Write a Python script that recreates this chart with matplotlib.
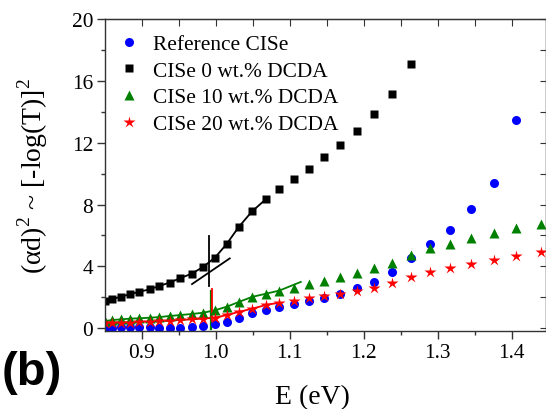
import matplotlib
matplotlib.use('Agg')
import matplotlib.pyplot as plt
from matplotlib.ticker import MultipleLocator

plt.rcParams['font.family'] = ['Liberation Serif', 'DejaVu Serif']
plt.rcParams['mathtext.fontset'] = 'custom'
plt.rcParams['mathtext.rm'] = 'Liberation Serif'

# photon energy (eV), shared by all samples
energy = [0.850, 0.860, 0.872, 0.884, 0.897, 0.911, 0.924, 0.938, 0.952, 0.968,
          0.983, 0.999, 1.015, 1.031, 1.049, 1.068, 1.086, 1.106, 1.126, 1.146,
          1.168, 1.191, 1.214, 1.238, 1.264, 1.289, 1.317, 1.345, 1.376, 1.406,
          1.439]

ref_cise = [0.00, 0.04, 0.06, 0.09, 0.09, 0.06, 0.04, 0.04, 0.04, 0.09,
            0.15, 0.26, 0.41, 0.69, 0.99, 1.21, 1.40, 1.60, 1.77, 1.96,
            2.24, 2.59, 3.00, 3.67, 4.53, 5.46, 6.36, 7.72, 9.39, 13.48]
dcda_0 = [1.77, 1.88, 2.05, 2.20, 2.37, 2.52, 2.74, 2.96, 3.24, 3.54,
          3.97, 4.57, 5.46, 6.54, 7.55, 8.35, 9.02, 9.66, 10.31, 11.09,
          11.87, 12.77, 13.87, 15.15, 17.09]
dcda_10 = [0.47, 0.54, 0.58, 0.63, 0.65, 0.69, 0.73, 0.80, 0.86, 0.93,
           1.01, 1.17, 1.40, 1.70, 2.03, 2.24, 2.44, 2.63, 2.85, 3.06,
           3.32, 3.56, 3.90, 4.25, 4.72, 5.18, 5.48, 5.81, 6.13, 6.49,
           6.71]
dcda_20 = [0.37, 0.33, 0.37, 0.37, 0.41, 0.43, 0.45, 0.50, 0.54, 0.58,
           0.63, 0.69, 0.86, 1.06, 1.27, 1.51, 1.66, 1.77, 1.94, 2.09,
           2.24, 2.39, 2.63, 2.93, 3.32, 3.64, 3.90, 4.14, 4.44, 4.66,
           4.90]

labels = ['Reference CISe', 'CISe 0 wt.% DCDA',
          'CISe 10 wt.% DCDA', 'CISe 20 wt.% DCDA']

# guide lines: tangent, fit end and band-gap markers
tangent_0_E = [0.968, 1.019]
tangent_0_y = [2.86, 4.52]
fit_10_end = (1.115, 3.0)
gap_0_E, gap_0_y = 0.9906, [2.75, 5.98]
gap_10_E, gap_10_y = 0.993, [-0.05, 2.43]
gap_20_E, gap_20_y = 0.995, [0.49, 2.54]

fig = plt.figure(figsize=(5.46, 4.10), dpi=100)
ax = fig.add_axes([105 / 546, 78 / 410, 441 / 546, 312.3 / 410])

blue, black, green, red = '#0000ff', '#000000', '#008000', '#ff0000'

# lines through the data in the fitted range
ax.plot(energy[:16], dcda_0[:16], '-', color=black, lw=1.3)
ax.plot(energy[:17] + [fit_10_end[0]], dcda_10[:17] + [fit_10_end[1]], '-',
        color=green, lw=1.3)
ax.plot(energy[:17], dcda_20[:17], '-', color=red, lw=1.3)
ax.plot(tangent_0_E, tangent_0_y, '-', color=black, lw=1.3)
ax.plot([gap_0_E, gap_0_E], gap_0_y, '-', color=black, lw=1.3)
ax.plot([gap_10_E, gap_10_E], gap_10_y, '-', color=green, lw=1.6)
ax.plot([gap_20_E, gap_20_E], gap_20_y, '-', color=red, lw=1.3)

ax.plot(energy[:len(ref_cise)], ref_cise, 'o', color=blue, ms=6.5,
        mec='none', label=labels[0])
ax.plot(energy[:len(dcda_0)], dcda_0, 's', color=black, ms=5.8,
        mec='none', label=labels[1])
ax.plot(energy[:len(dcda_10)], dcda_10, '^', color=green, ms=7.5,
        mec='none', label=labels[2])
ax.plot(energy[:len(dcda_20)], dcda_20, '*', color=red, ms=9,
        mec='none', label=labels[3])

ax.set_xlim(0.8504, 1.4464)
ax.set_ylim(-0.17, 20)
ax.xaxis.set_minor_locator(MultipleLocator(0.05))
ax.yaxis.set_minor_locator(MultipleLocator(2))
ax.set_xticks([0.9, 1.0, 1.1, 1.2, 1.3, 1.4])
ax.set_xticklabels(['0.9', '1.0', '1.1', '1.2', '1.3', '1.4'])
ax.set_yticks([0, 4, 8, 12, 16, 20])
ax.set_yticklabels(['0', '4', '8', '12', '16', '20'])

ax.tick_params(which='both', direction='out', labelsize=15.4,
               top=False, right=False, color='#333333')
ax.tick_params(which='major', length=5.5, width=1, pad=3)
ax.tick_params(which='minor', length=3, width=1)

# inward ticks on the top and right edges
sec_x = ax.secondary_xaxis('top')
sec_x.xaxis.set_major_locator(MultipleLocator(0.05))
sec_x.tick_params(direction='in', length=5, labeltop=False, color='#333333')
sec_y = ax.secondary_yaxis('right')
sec_y.yaxis.set_major_locator(MultipleLocator(2))
sec_y.tick_params(direction='in', length=4, labelright=False, color='#333333')
for s in (sec_x.spines['top'], sec_y.spines['right']):
    s.set_color('#333333')

for s in ax.spines.values():
    s.set_color('#333333')
    s.set_linewidth(1.0)

ax.set_xlabel('E (eV)', fontsize=20)
ax.xaxis.set_label_coords(0.47, -0.17)
ax.set_ylabel('(αd)$^2$ ~ [-log(T)]$^2$', fontsize=20)
ax.yaxis.set_label_coords(-0.125, 0.5)

ax.legend(loc='upper left', bbox_to_anchor=(0.030, 0.95), frameon=False,
          fontsize=15.4, numpoints=1, handlelength=1.0, handletextpad=0.62,
          borderpad=0, borderaxespad=0, labelspacing=0.31)

fig.text(0.003, 0.09, '(b)', fontsize=34, fontweight='bold',
         family='Liberation Sans', ha='left', va='center')

fig.savefig('out.png', dpi=100)
